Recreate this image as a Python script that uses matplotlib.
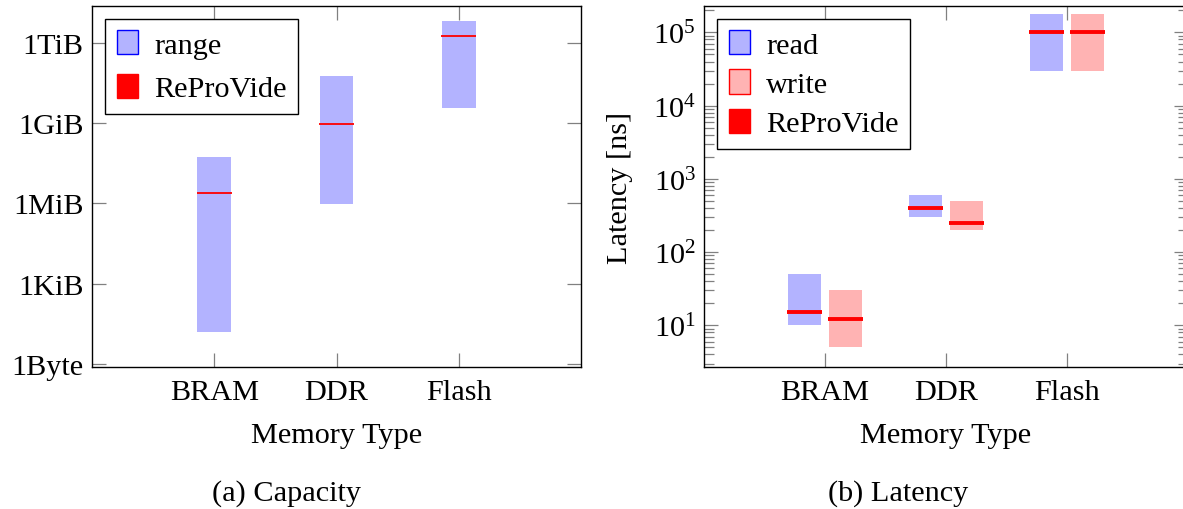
import matplotlib
matplotlib.use("Agg")
import matplotlib.pyplot as plt
from matplotlib.patches import Patch
from matplotlib.ticker import FixedLocator, LogLocator, NullFormatter, NullLocator
import numpy as np

# ---------------- data ----------------
categories = ["BRAM", "DDR", "Flash"]

# capacity in bytes
cap_min = [16, 1e6, 4e9]
cap_max = [6e7, 6.4e10, 7.5e12]
cap_reprovide = [2.5e6, 1e9, 2e12]

# latency in ns
read_min = [10, 300, 3e4]
read_max = [50, 600, 1.8e5]
read_reprovide = [15, 400, 1e5]
write_min = [5, 200, 3e4]
write_max = [30, 500, 1.8e5]
write_reprovide = [12, 250, 1e5]

cap_tick_values = [2**0, 2**10, 2**20, 2**30, 2**40]
cap_tick_labels = ["1Byte", "1KiB", "1MiB", "1GiB", "1TiB"]

# ---------------- style ----------------
plt.rcParams["font.family"] = ["Liberation Serif", "DejaVu Serif"]
plt.rcParams["mathtext.fontset"] = "stix"
FS = 21.8
plt.rcParams["font.size"] = FS

BLUE_FILL = "#b3b3ff"
RED_FILL = "#ffb3b3"
RED = "#ff0000"
TICK_COLOR = "#808080"

W, H = 1183, 510
fig = plt.figure(figsize=(W / 100, H / 100), dpi=100)


def rect(l, t, r, b):
    return [l / W, 1 - b / H, (r - l) / W, (b - t) / H]


ax1 = fig.add_axes(rect(92, 7, 581, 368))
ax2 = fig.add_axes(rect(704, 7, 1188, 368))

x = np.arange(1, len(categories) + 1)
BW = 0.275
LW_HALF = 0.145

# ---------------- capacity ----------------
ax1.set_yscale("log", base=2)
ax1.bar(x, np.array(cap_max) - np.array(cap_min), bottom=cap_min, width=BW,
        color=BLUE_FILL, edgecolor="none", zorder=2)
ax1.hlines(cap_reprovide, x - LW_HALF, x + LW_HALF, colors=RED, lw=1.3, zorder=3)
ax1.set_xlim(0, 4)
ax1.set_ylim(2**-0.4, 2**44.6)
ax1.yaxis.set_major_locator(FixedLocator(cap_tick_values))
ax1.set_yticklabels(cap_tick_labels)
ax1.yaxis.set_minor_locator(NullLocator())
ax1.set_xticks(x)
ax1.set_xticklabels(categories)
ax1.set_xlabel("Memory Type")

leg_kw = dict(loc="upper left", bbox_transform=fig.transFigure, borderaxespad=0,
              fancybox=False, framealpha=1, edgecolor="black", borderpad=0.38,
              handlelength=0.7, handleheight=0.85, handletextpad=0.55)

leg1 = ax1.legend(
    handles=[Patch(facecolor=BLUE_FILL, edgecolor="blue", lw=1.0, label="range"),
             Patch(facecolor=RED, edgecolor=RED, lw=1.0, label="ReProVide")],
    bbox_to_anchor=(105 / W, 1 - 19.5 / H), labelspacing=0.5, **leg_kw)
leg1.get_frame().set_linewidth(1.0)

# ---------------- latency ----------------
ax2.set_yscale("log")
ax2.bar(x - 1 / 6, np.array(read_max) - np.array(read_min), bottom=read_min, width=BW,
        color=BLUE_FILL, edgecolor="none", zorder=2)
ax2.bar(x + 1 / 6, np.array(write_max) - np.array(write_min), bottom=write_min, width=BW,
        color=RED_FILL, edgecolor="none", zorder=2)
ax2.hlines(read_reprovide, x - 1 / 6 - LW_HALF, x - 1 / 6 + LW_HALF, colors=RED, lw=2.8, zorder=3)
ax2.hlines(write_reprovide, x + 1 / 6 - LW_HALF, x + 1 / 6 + LW_HALF, colors=RED, lw=2.8, zorder=3)
ax2.set_xlim(0, 4)
ax2.set_ylim(10**0.43, 10**5.36)
ax2.yaxis.set_major_locator(LogLocator(base=10, numticks=10))
ax2.yaxis.set_minor_locator(LogLocator(base=10, subs=np.arange(2, 10), numticks=10))
ax2.yaxis.set_minor_formatter(NullFormatter())
ax2.set_xticks(x)
ax2.set_xticklabels(categories)
ax2.set_xlabel("Memory Type")
ax2.set_ylabel("Latency [ns]", labelpad=14)

leg2 = ax2.legend(
    handles=[Patch(facecolor=BLUE_FILL, edgecolor="blue", lw=1.0, label="read"),
             Patch(facecolor=RED_FILL, edgecolor=RED, lw=1.0, label="write"),
             Patch(facecolor=RED, edgecolor=RED, lw=1.0, label="ReProVide")],
    bbox_to_anchor=(717 / W, 1 - 19.5 / H), labelspacing=0.36, **leg_kw)
leg2.get_frame().set_linewidth(1.0)

for ax in (ax1, ax2):
    for s in ax.spines.values():
        s.set_linewidth(1.0)
        s.set_zorder(5)
    ax.tick_params(which="both", direction="in", top=True, right=True,
                   color=TICK_COLOR, width=0.9)
    ax.tick_params(which="major", length=10.3, pad=6)
    ax.tick_params(which="minor", length=7.2)
    ax.tick_params(axis="x", which="major", pad=9)
    ax.xaxis.labelpad = 12

fig.text(286 / W, 1 - 494 / H, "(a) Capacity", ha="center", va="center")
fig.text(898 / W, 1 - 494 / H, "(b) Latency", ha="center", va="center")

fig.savefig("out.png", dpi=100)
